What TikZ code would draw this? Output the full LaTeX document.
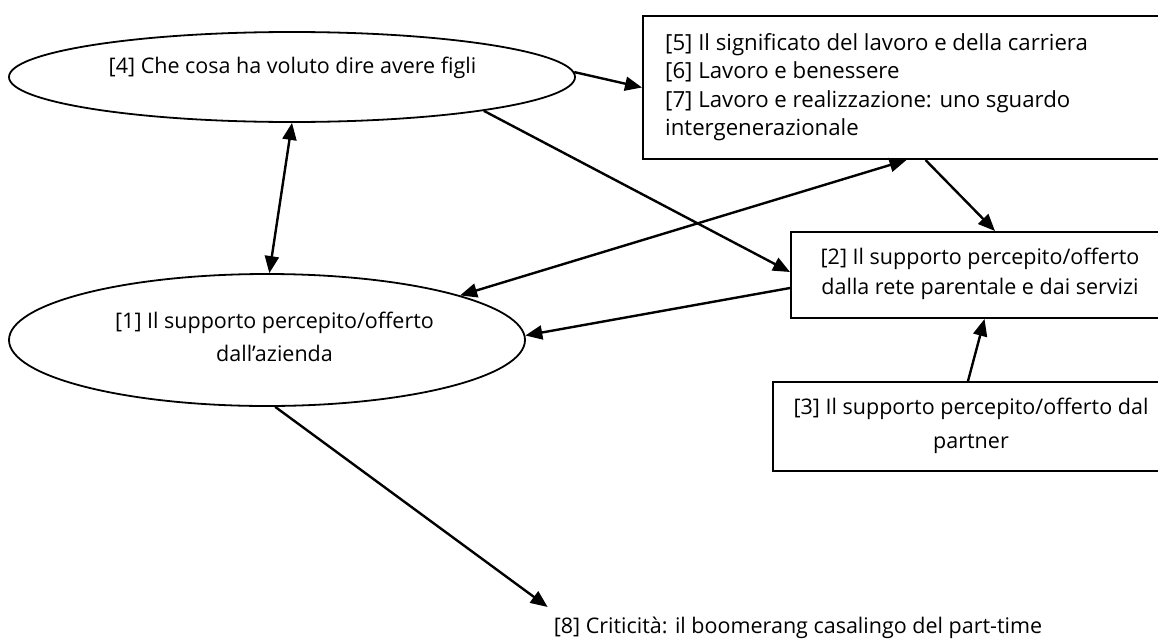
\documentclass[tikz,border=0pt]{standalone}
\usepackage{fontspec}
\setmainfont{Open Sans}
\usetikzlibrary{shapes.geometric,arrows.meta,calc}
\tikzset{
  shapeline/.style={draw=black, line width=2pt, inner sep=0pt},
  oval/.style={shapeline, line width=1.8pt, ellipse},
  panel/.style={shapeline, rectangle},
  lbl/.style={inner sep=0pt, font=\fontsize{21.5}{28.5}\selectfont},
  link/.style={line width=2.4pt, -{Triangle[length=17pt,width=14pt]}},
  twoway/.style={line width=2.4pt, {Triangle[length=17pt,width=14pt]}-{Triangle[length=17pt,width=14pt]}}
}
\begin{document}
\begin{tikzpicture}[x=1pt,y=-1pt]
\useasboundingbox (0,0) rectangle (1158,640);
\clip (0,0) rectangle (1158,640);
\fill[white] (0,0) rectangle (1158,640);

% outlines
\node[oval, minimum width=566pt, minimum height=90pt] (e4) at (292,77) {};
\node[oval, minimum width=516pt, minimum height=132pt] (e1) at (267,340) {};
\node[panel, minimum width=527pt, minimum height=143pt] (b5) at (906.5,87.5) {};
\node[panel, minimum width=379pt, minimum height=86pt] (b2) at (980.5,275) {};
\node[panel, minimum width=390pt, minimum height=89pt] (b3) at (968,426.5) {};

% texts
\node[lbl] (t4) at (292.5,68) {[4] Che cosa ha voluto dire avere figli};
\node[lbl, align=left, anchor=west, font=\fontsize{22.2}{28.5}\selectfont] (t5) at (665,87) {[5] Il significato del lavoro e della carriera\\{}[6] Lavoro e benessere\\{}[7] Lavoro e realizzazione: uno sguardo\\{}intergenerazionale};
\node[lbl, align=center, font=\fontsize{21.5}{30.5}\selectfont] (t2) at (980,274) {[2] Il supporto percepito/offerto\\{}dalla rete parentale e dai servizi};
\node[lbl, align=center, font=\fontsize{21.5}{34}\selectfont] (t3) at (971,426) {[3] Il supporto percepito/offerto dal\\{}partner};
\node[lbl, align=center, font=\fontsize{21.5}{32.5}\selectfont] (t1) at (274.5,337) {[1] Il supporto percepito/offerto\\{}dall’azienda};
\node[lbl] (t8) at (798,628) {[8] Criticità: il boomerang casalingo del part-time};

% connectors
\coordinate (c8) at ($(t8.north west)+(-6,-10)$);
\draw[link] (e4.1) -- (b5.west);
\draw[link] (e4.-10) -- ($(b2.west)+(0,-3)$);
\draw[twoway] (e4.-90.5) -- (e1.88);
\draw[twoway] (b5.south) -- (e1.13);
\draw[link] ($(b5.south)+(19,0)$) -- ($(b2.north)+(14.5,0)$);
\draw[link] ($(b2.west)+(0,13)$) -- (e1.1);
\draw[link] (b3.north) -- ($(b2.south)+(4,0)$);
\draw[link] (e1.-83) -- (c8);
\end{tikzpicture}
\end{document}
